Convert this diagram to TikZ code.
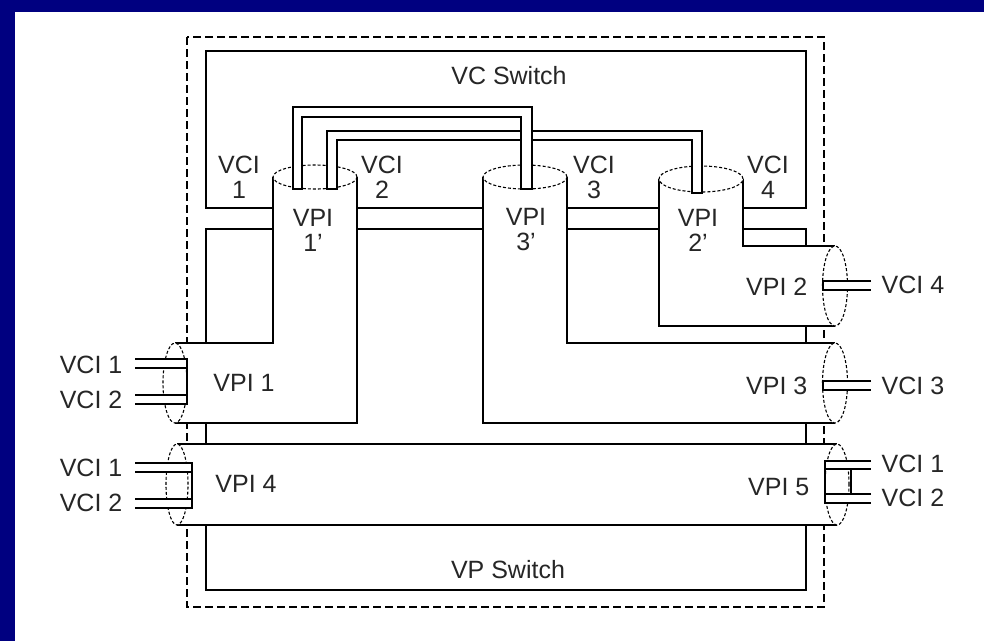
\documentclass[tikz,border=0pt]{standalone}
\usepackage{fontspec}
\setmainfont{Liberation Sans}
\definecolor{navyblue}{RGB}{0,0,128}
\begin{document}
\begin{tikzpicture}[x=1pt,y=-1pt,line width=1.4pt,
  lbl/.style={font=\fontsize{25}{25}\selectfont,inner sep=0pt,align=center,text=black!85},
  rim/.style={draw=black,dash pattern=on 3pt off 2pt,line width=1.1pt,fill=white},
  wire/.style={draw=black,fill=white,line width=1.4pt},
  outline/.style={draw=black,dash pattern=on 8pt off 4pt,line width=1.3pt}]
\useasboundingbox (0,0) rectangle (984,641);
% background frame
\fill[navyblue] (0,0) rectangle (984,641);
\fill[white] (15,12) rectangle (984,641);
% dashed outline
\draw[outline] (187,37) rectangle (824,607);
% switch boxes
\draw (206,51) rectangle (806,208);
\draw (206,229) rectangle (806,590);
% L-pipe VPI 1' / VPI 1
\fill[white] (175,343) -- (273,343) -- (273,177) -- (357,177) -- (357,423) -- (175,423) -- cycle;
\draw (273,177) -- (273,343) -- (175,343);
\draw (357,177) -- (357,423) -- (175,423);
% L-pipe VPI 3' / VPI 3
\fill[white] (483,177) -- (567,177) -- (567,343) -- (835,343) -- (835,423) -- (483,423) -- cycle;
\draw (483,177) -- (483,423) -- (835,423);
\draw (567,177) -- (567,343) -- (835,343);
% L-pipe VPI 2' / VPI 2
\fill[white] (659,179) -- (743,179) -- (743,246) -- (835,246) -- (835,326) -- (659,326) -- cycle;
\draw (659,179) -- (659,326) -- (835,326);
\draw (743,179) -- (743,246) -- (835,246);
% straight pipe VPI 4 / VPI 5
\fill[white] (177,444) rectangle (837,525);
\draw (177,444) -- (837,444);
\draw (177,525) -- (837,525);
% pipe ends (dashed rims)
\draw[rim] (315,177) ellipse [x radius=42pt,y radius=12pt];
\draw[rim] (525,177) ellipse [x radius=42pt,y radius=12pt];
\draw[rim] (701,179) ellipse [x radius=42pt,y radius=13pt];
\draw[rim] (175,383) ellipse [x radius=12pt,y radius=40pt];
\draw[rim] (177,484.5) ellipse [x radius=11pt,y radius=40.5pt];
\draw[rim] (835,286) ellipse [x radius=12.5pt,y radius=40pt];
\draw[rim] (835,383) ellipse [x radius=12.5pt,y radius=40pt];
\draw[rim] (837,484.5) ellipse [x radius=12pt,y radius=40.5pt];
% channels through the VC switch
\draw[wire] (327,189) -- (327,131) -- (702,131) -- (702,193) -- (692,193) -- (692,140) -- (337,140) -- (337,189) -- cycle;
\draw[wire] (293,189) -- (293,107) -- (532,107) -- (532,189) -- (521,189) -- (521,117) -- (302,117) -- (302,189) -- cycle;
% left channels
\draw[wire] (135,359) -- (187,359) -- (187,368) -- (135,368);
\draw[wire] (135,395) -- (187,395) -- (187,404) -- (135,404);
\draw (187,368) -- (187,395);
\draw[wire] (135,463) -- (192,463) -- (192,472) -- (135,472);
\draw[wire] (135,499) -- (192,499) -- (192,508) -- (135,508);
\draw (192,472) -- (192,499);
% right channels
\draw[wire] (871,281) -- (823,281) -- (823,290) -- (871,290);
\draw[wire] (871,381) -- (823,381) -- (823,390) -- (871,390);
\draw[wire] (871,461) -- (825,461) -- (825,469) -- (871,469);
\draw[wire] (871,494) -- (825,494) -- (825,503) -- (871,503);
\draw (825,469) -- (825,494);
\draw (851,469) -- (851,494);
% labels
\node[lbl] (vcsw) at (509,76) {VC Switch};
\node[lbl] (vpsw) at (508,570) {VP Switch};
\node[lbl] (vcia) at (239,177.5) {VCI\\1};
\node[lbl] (vcib) at (382,177.5) {VCI\\2};
\node[lbl] (vcic) at (594,177.5) {VCI\\3};
\node[lbl] (vcid) at (768,177.5) {VCI\\4};
\node[lbl] (vpia) at (313,230) {VPI\\1'};
\node[lbl] (vpic) at (526,230) {VPI\\3'};
\node[lbl] (vpib) at (698,230) {VPI\\2'};
\node[lbl] (vpione) at (244,383) {VPI 1};
\node[lbl] (vpifour) at (246,484) {VPI 4};
\node[lbl,anchor=east] (vpitwo) at (808,287) {VPI 2};
\node[lbl,anchor=east] (vpithree) at (808,386) {VPI 3};
\node[lbl,anchor=east] (vpifive) at (810,487) {VPI 5};
\node[lbl,anchor=west] (rvcifour) at (881,285) {VCI 4};
\node[lbl,anchor=west] (rvcithree) at (881,386) {VCI 3};
\node[lbl,anchor=west] (rvcione) at (881,464) {VCI 1};
\node[lbl,anchor=west] (rvcitwo) at (881,498) {VCI 2};
\node[lbl,anchor=east] (lvcia) at (123,365) {VCI 1};
\node[lbl,anchor=east] (lvcib) at (123,400) {VCI 2};
\node[lbl,anchor=east] (lvcic) at (123,468) {VCI 1};
\node[lbl,anchor=east] (lvcid) at (123,503) {VCI 2};
\end{tikzpicture}
\end{document}
